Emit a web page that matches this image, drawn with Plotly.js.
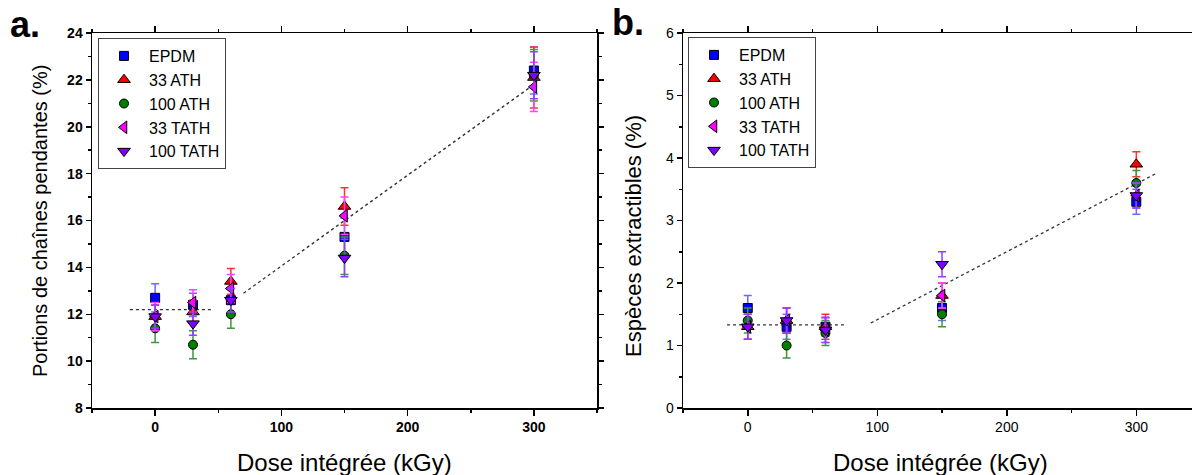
<!DOCTYPE html>
<html>
<head>
<meta charset="utf-8">
<script src="https://cdn.plot.ly/plotly-3.0.1.min.js"></script>
<style>html,body{margin:0;padding:0;background:#fff;}#chart{width:1192px;height:475px;}</style>
</head>
<body>
<div id="chart"></div>
<script>
// ---- data ----
var doses = [0, 30, 60, 150, 300];
var seriesNames = ["EPDM", "33 ATH", "100 ATH", "33 TATH", "100 TATH"];

// Panel a: Portions de chaînes pendantes (%)
var pendEPDM   = [12.7, 12.4, 12.6, 15.3, 22.4];
var pend33ATH  = [11.9, 12.1, 13.4, 16.6, 22.1];
var pend100ATH = [11.4, 10.7, 12.0, 14.5, 22.2];
var pend33TATH = [11.9, 12.5, 13.1, 16.2, 21.7];
var pend100TATH= [11.9, 11.6, 12.6, 14.4, 22.2];
var pendErrEPDM   = [0.6, 0.5, 0.5, 0.8, 1.0];
var pendErr33ATH  = [0.5, 0.5, 0.55, 0.8, 1.3];
var pendErr100ATH = [0.6, 0.6, 0.6, 0.8, 1.1];
var pendErr33TATH = [0.6, 0.55, 0.6, 0.8, 1.05];
var pendErr100TATH= [0.5, 0.5, 0.5, 0.8, 1.0];

// Panel b: Espèces extractibles (%)
var extEPDM   = [1.6, 1.3, 1.3, 1.6, 3.3];
var ext33ATH  = [1.3, 1.4, 1.3, 1.8, 3.9];
var ext100ATH = [1.4, 1.0, 1.2, 1.5, 3.6];
var ext33TATH = [1.3, 1.4, 1.25, 1.8, 3.4];
var ext100TATH= [1.3, 1.4, 1.25, 2.3, 3.4];
var extErrEPDM   = [0.2, 0.2, 0.15, 0.2, 0.2];
var extErr33ATH  = [0.2, 0.2, 0.2, 0.2, 0.2];
var extErr100ATH = [0.2, 0.2, 0.2, 0.2, 0.2];
var extErr33TATH = [0.2, 0.2, 0.2, 0.2, 0.2];
var extErr100TATH= [0.2, 0.2, 0.2, 0.2, 0.2];

// dashed guide lines
var fitAFlatX = [-20, 45],  fitAFlatY = [12.2, 12.2];
var fitASlopeX = [70, 300], fitASlopeY = [12.9, 21.8];
var fitBFlatX = [-16, 75],  fitBFlatY = [1.33, 1.33];
var fitBSlopeX = [95, 316], fitBSlopeY = [1.36, 3.76];

// tick labels
var xTickVals = [0, 100, 200, 300];
var xTickText = ["0", "100", "200", "300"];

// ---- styles ----
var markerColors = ["#0000ff", "#ff0000", "#007f00", "#ff00ff", "#7f00ff"];
var errColors    = ["#6a6aff", "#ff3030", "#3a9a3a", "#ff40ff", "#8f3fff"];
var symbols      = ["square", "triangle-up", "circle", "triangle-left", "triangle-down"];
var sizes        = [9, 11, 9, 11, 11];

var pendVals = [pendEPDM, pend33ATH, pend100ATH, pend33TATH, pend100TATH];
var pendErrs = [pendErrEPDM, pendErr33ATH, pendErr100ATH, pendErr33TATH, pendErr100TATH];
var extVals  = [extEPDM, ext33ATH, ext100ATH, ext33TATH, ext100TATH];
var extErrs  = [extErrEPDM, extErr33ATH, extErr100ATH, extErr33TATH, extErr100TATH];

var traces = [];
function lineTrace(x, y, xa, ya) {
  return {x: x, y: y, xaxis: xa, yaxis: ya, mode: "lines", showlegend: false, hoverinfo: "skip",
          line: {color: "#333", width: 1.3, dash: "3px,3px"}};
}
traces.push(lineTrace(fitAFlatX, fitAFlatY, "x", "y"));
traces.push(lineTrace(fitASlopeX, fitASlopeY, "x", "y"));
traces.push(lineTrace(fitBFlatX, fitBFlatY, "x2", "y2"));
traces.push(lineTrace(fitBSlopeX, fitBSlopeY, "x2", "y2"));

function seriesTrace(i, vals, errs, xa, ya, leg) {
  return {
    x: doses, y: vals[i], xaxis: xa, yaxis: ya, name: seriesNames[i], legend: leg,
    mode: "markers", type: "scatter",
    marker: {symbol: symbols[i], size: sizes[i], color: markerColors[i], line: {color: "#000", width: 1}},
    error_y: {type: "data", array: errs[i], visible: true, color: errColors[i], thickness: 1.5, width: 4}
  };
}
for (var i = 0; i < 5; i++) traces.push(seriesTrace(i, pendVals, pendErrs, "x", "y", "legend"));
for (var j = 0; j < 5; j++) traces.push(seriesTrace(j, extVals, extErrs, "x2", "y2", "legend2"));

var W = 1192, H = 475;
function px(x) { return x / W; }
function py(y) { return 1 - y / H; }

var baseAxis = {
  showline: true, linecolor: "#000", linewidth: 1.5, ticks: "outside", ticklen: 6, tickwidth: 1.5,
  tickcolor: "#000", showgrid: false, zeroline: false, fixedrange: true
};
function ax(extra) { var o = {}; for (var k in baseAxis) o[k] = baseAxis[k]; for (var k2 in extra) o[k2] = extra[k2]; return o; }

var boldTick = {family: "Arial, Liberation Sans, sans-serif", size: 14, color: "#000", weight: "bold"};
var normTick = {family: "Arial, Liberation Sans, sans-serif", size: 14, color: "#000"};

var legendBase = {xanchor: "left", yanchor: "top", bgcolor: "#fff", itemwidth: 40,
                  bordercolor: "#444", borderwidth: 1, font: {size: 16, color: "#000"}};
function leg(x, y) { var o = {}; for (var k in legendBase) o[k] = legendBase[k]; o.x = x; o.y = y; return o; }

var layout = {
  width: W, height: H,
  margin: {l: 0, r: 0, t: 0, b: 0},
  paper_bgcolor: "#fff", plot_bgcolor: "#fff",
  font: {family: "Arial, Liberation Sans, sans-serif", color: "#000"},
  xaxis: ax({domain: [px(92), px(597)], range: [-50, 350], anchor: "y", mirror: "ticks",
             tickmode: "array", tickvals: xTickVals, ticktext: xTickText, tickfont: boldTick,
             minor: {dtick: 50, tick0: 0, ticks: "outside", ticklen: 3, tickwidth: 1.5, tickcolor: "#000"}}),
  yaxis: ax({domain: [py(408), py(33)], range: [8, 24], anchor: "x", mirror: "ticks",
             dtick: 2, tick0: 8, tickfont: boldTick, ticklen: 5,
             minor: {dtick: 1, ticks: "outside", ticklen: 3, tickwidth: 1.5, tickcolor: "#000"}}),
  xaxis2: ax({domain: [px(683), 1], range: [-50, 343], anchor: "y2", mirror: "ticks",
              tickmode: "array", tickvals: xTickVals, ticktext: xTickText, tickfont: normTick,
              minor: {dtick: 50, tick0: 0, ticks: "outside", ticklen: 3, tickwidth: 1.5, tickcolor: "#000"}}),
  yaxis2: ax({domain: [py(408), py(33)], range: [0, 6], anchor: "x2", mirror: false,
              dtick: 1, tick0: 0, tickfont: normTick, ticklen: 5,
              minor: {dtick: 0.5, ticks: "outside", ticklen: 3, tickwidth: 1.5, tickcolor: "#000"}}),
  legend: leg(px(98), py(38)),
  legend2: leg(px(688), py(37)),
  annotations: [
    {text: "Dose intégrée (kGy)", xref: "paper", yref: "paper", x: px(344), y: py(462),
     xanchor: "center", yanchor: "middle", showarrow: false, font: {size: 24}},
    {text: "Dose intégrée (kGy)", xref: "paper", yref: "paper", x: px(940), y: py(462),
     xanchor: "center", yanchor: "middle", showarrow: false, font: {size: 24}},
    {text: "Portions de chaînes pendantes (%)", xref: "paper", yref: "paper", x: px(40), y: py(221),
     xanchor: "center", yanchor: "middle", showarrow: false, textangle: -90, font: {size: 20}},
    {text: "Espèces extractibles (%)", xref: "paper", yref: "paper", x: px(633), y: py(236),
     xanchor: "center", yanchor: "middle", showarrow: false, textangle: -90, font: {size: 22}},
    {text: "<b>a.</b>", xref: "paper", yref: "paper", x: px(25), y: py(25),
     xanchor: "center", yanchor: "middle", showarrow: false, font: {size: 36}},
    {text: "<b>b.</b>", xref: "paper", yref: "paper", x: px(628), y: py(23),
     xanchor: "center", yanchor: "middle", showarrow: false, font: {size: 36}}
  ]
};

Plotly.newPlot("chart", traces, layout, {displayModeBar: false, staticPlot: true});
</script>
</body>
</html>
